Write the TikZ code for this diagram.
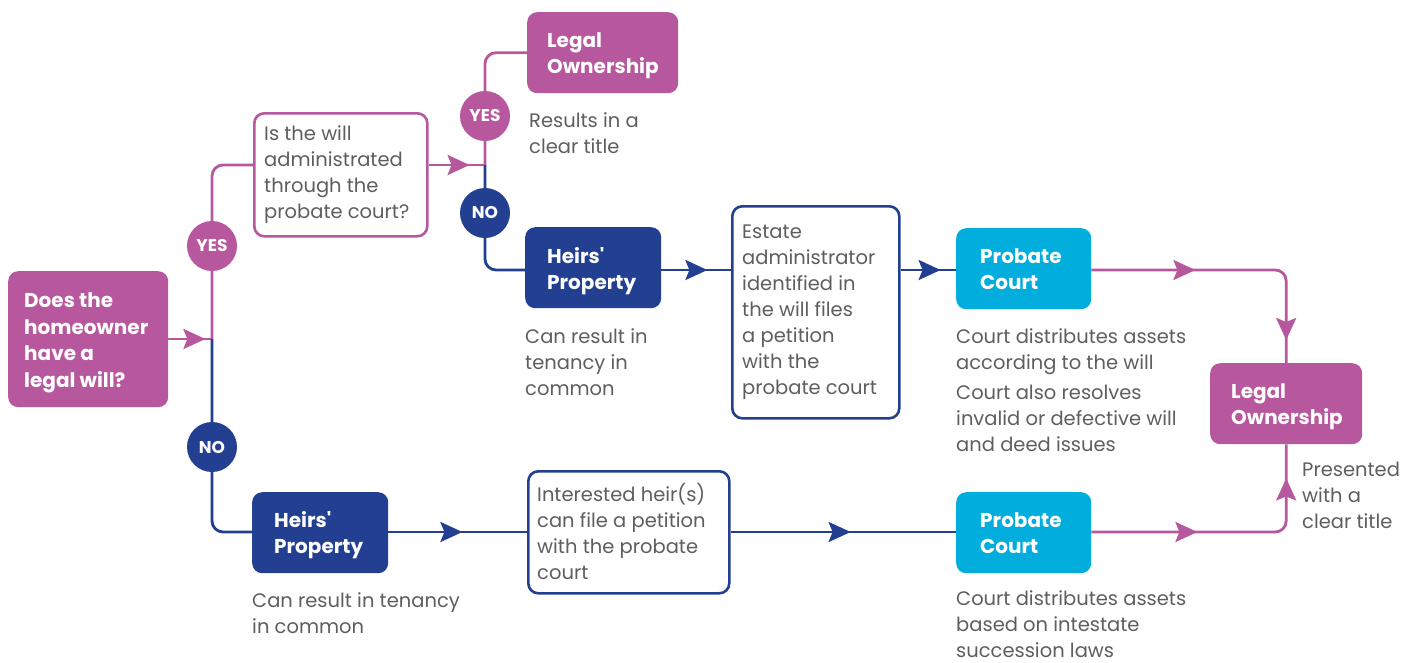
\documentclass[tikz,border=0pt]{standalone}
\usepackage{fontspec}
\setmainfont{Poppins}[Ligatures=TeXOff]
\usetikzlibrary{arrows.meta,decorations.markings,backgrounds,calc}
\definecolor{mag}{HTML}{B7579E}
\definecolor{navy}{HTML}{233F92}
\definecolor{cyanb}{HTML}{00ADDC}
\definecolor{txtgray}{HTML}{5E5E5E}
\tikzset{
  fillbox/.style={rounded corners=10pt, fill=#1, draw=none, inner sep=0pt},
  linebox/.style={rounded corners=10pt, fill=white, draw=#1, line width=2.6pt, inner sep=0pt},
  btxt/.style={anchor=west, align=left, inner sep=0pt, text=white, font=\fontsize{20}{26.5}\selectfont\bfseries},
  gtxt/.style={anchor=west, align=left, inner sep=0pt, text=txtgray, font=\fontsize{19.5}{26}\selectfont},
  ntxt/.style={anchor=north west, align=left, inner sep=0pt, text=txtgray, font=\fontsize{19.5}{26}\selectfont},
  badge/.style={circle, fill=#1, minimum size=50pt, inner sep=0pt, text=white, font=\fontsize{17}{17}\selectfont\bfseries},
  conn/.style={line width=2.8pt, draw=#1, rounded corners=11pt},
  tipat/.style={decoration={markings, mark=at position #1 with {\arrow{Stealth[length=22pt,width=20pt,inset=4pt]}}}, postaction={decorate}},
  tiptwo/.style 2 args={decoration={markings,
     mark=at position #1 with {\arrow{Stealth[length=22pt,width=20pt,inset=4pt]}},
     mark=at position #2 with {\arrow{Stealth[length=22pt,width=20pt,inset=4pt]}}}, postaction={decorate}},
}
\begin{document}
\begin{tikzpicture}[x=1pt,y=-1pt]
\useasboundingbox (0,0) rectangle (1416,662);
% boxes
\node[fillbox=mag, minimum width=160pt, minimum height=136pt, anchor=north west] (q1) at (8,271) {};
\node[btxt] (q1t) at (24,343) {Does the\\homeowner\\have a\\legal will?};
\node[linebox=mag, minimum width=173pt, minimum height=123pt, anchor=north west] (q2) at (253,112) {};
\node[gtxt] (q2t) at (264,175) {Is the will\\administrated\\through the\\probate court?};
\node[fillbox=mag, minimum width=151pt, minimum height=81pt, anchor=north west] (lo1) at (527,12) {};
\node[btxt] (lo1t) at (547,56) {Legal\\Ownership};
\node[ntxt] (lo1n) at (529,112.5) {Results in a\\clear title};
\node[fillbox=navy, minimum width=136pt, minimum height=81pt, anchor=north west] (hp1) at (525,227) {};
\node[btxt] (hp1t) at (547,271) {Heirs'\\Property};
\node[ntxt] (hp1n) at (525,328.5) {Can result in\\tenancy in\\common};
\node[linebox=navy, minimum width=167pt, minimum height=212pt, anchor=north west] (est) at (731,205) {};
\node[gtxt] (estt) at (742,312) {Estate\\administrator\\identified in\\the will files\\a petition\\with the\\probate court};
\node[fillbox=cyanb, minimum width=135pt, minimum height=81pt, anchor=north west] (pc1) at (956,228) {};
\node[btxt] (pc1t) at (980,269) {Probate\\Court};
\node[ntxt] (pc1n) at (956,328.5) {Court distributes assets\\according to the will};
\node[ntxt] (pc1m) at (956,384.5) {Court also resolves\\invalid or defective will\\and deed issues};
\node[fillbox=mag, minimum width=152pt, minimum height=81pt, anchor=north west] (lo2) at (1210,363) {};
\node[btxt] (lo2t) at (1231,407) {Legal\\Ownership};
\node[ntxt] (lo2n) at (1302,461.5) {Presented\\with a\\clear title};
\node[fillbox=navy, minimum width=136pt, minimum height=81pt, anchor=north west] (hp2) at (252,492) {};
\node[btxt] (hp2t) at (274,535) {Heirs'\\Property};
\node[ntxt] (hp2n) at (252,592.5) {Can result in tenancy\\in common};
\node[linebox=navy, minimum width=201pt, minimum height=122pt, anchor=north west] (int) at (527,470) {};
\node[gtxt] (intt) at (537,531) {Interested heir(s)\\can file a petition\\with the probate\\court};
\node[fillbox=cyanb, minimum width=135pt, minimum height=81pt, anchor=north west] (pc2) at (956,492) {};
\node[btxt] (pc2t) at (980,533) {Probate\\Court};
\node[ntxt] (pc2n) at (956,590) {Court distributes assets\\based on intestate\\succession laws};
% badges
\node[badge=mag] (yes1) at (212,246) {YES};
\node[badge=navy] (no1) at (212,447) {NO};
\node[badge=mag] (yes2) at (485,116) {YES};
\node[badge=navy] (no2) at (485,213) {NO};
% junctions
\coordinate (j1) at (212,339);
\coordinate (j2) at (485,165);
\coordinate (l165) at (0,165);
\coordinate (l270) at (0,270);
\coordinate (l532) at (0,532);
\begin{pgfonlayer}{background}
\draw[conn=mag, tipat=37pt] (q1.east |- j1) -- (j1);
\draw[conn=mag] (j1) |- (q2.west |- l165);
\draw[conn=navy] (j1) |- (hp2.west |- l532);
\draw[conn=mag, tipat=41pt] (q2.east |- l165) -- (j2);
\draw[conn=mag] (j2) |- (lo1.west);
\draw[conn=navy] (j2) |- (hp1.west |- l270);
\draw[conn=navy, tipat=46pt] (hp1.east |- l270) -- (est.west |- l270);
\draw[conn=navy, tipat=40pt] (est.east |- l270) -- (pc1.west |- l270);
\draw[conn=mag, tiptwo={104pt}{-23pt}] (pc1.east |- l270) -| (lo2.north);
\draw[conn=navy, tipat=74pt] (hp2.east |- l532) -- (int.west |- l532);
\draw[conn=navy, tipat=120pt] (int.east |- l532) -- (pc2.west |- l532);
\draw[conn=mag, tiptwo={106pt}{-34pt}] (pc2.east |- l532) -| (lo2.south);
\end{pgfonlayer}
\end{tikzpicture}
\end{document}
